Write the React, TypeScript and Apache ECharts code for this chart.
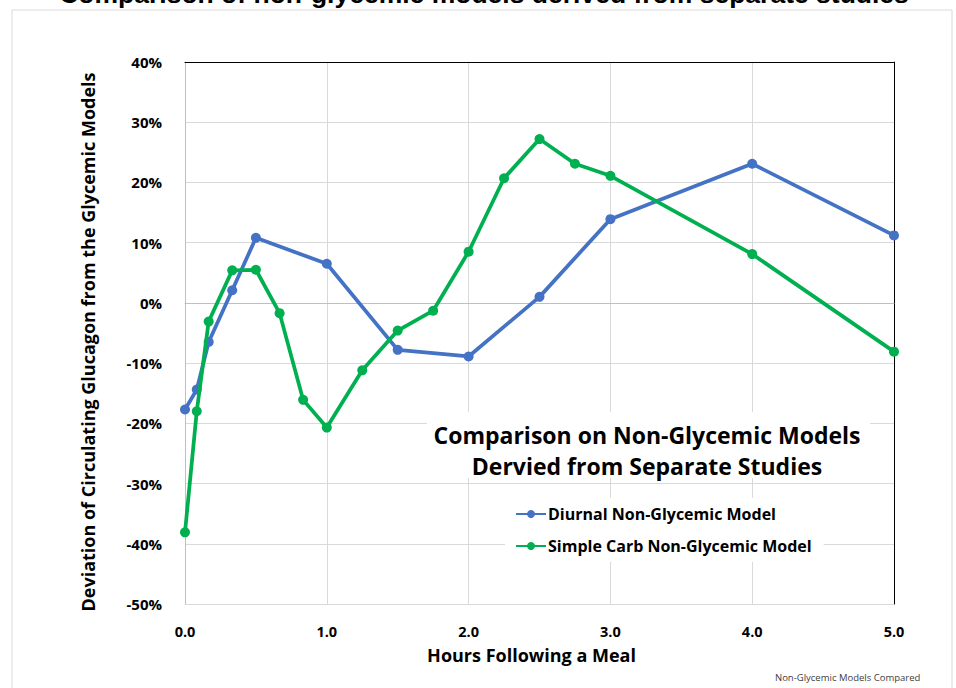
import React, { useEffect, useRef } from "react";
import * as echarts from "echarts";

const diurnalX = [0, 0.083, 0.167, 0.333, 0.5, 1.0, 1.5, 2.0, 2.5, 3.0, 4.0, 5.0];
const diurnalY = [-17.7, -14.4, -6.5, 2.1, 10.8, 6.5, -7.8, -8.9, 1.0, 13.9, 23.1, 11.2];

const carbX = [0, 0.083, 0.167, 0.333, 0.5, 0.667, 0.833, 1.0, 1.25, 1.5, 1.75, 2.0, 2.25, 2.5, 2.75, 3.0, 4.0, 5.0];
const carbY = [-38.1, -18.0, -3.1, 5.4, 5.5, -1.7, -16.1, -20.7, -11.2, -4.6, -1.3, 8.5, 20.7, 27.2, 23.1, 21.1, 8.1, -8.1];

const seriesNames = ["Diurnal Non-Glycemic Model", "Simple Carb Non-Glycemic Model"];
const seriesColors = ["#4472C4", "#00B050"];

const chartTitle = "Comparison of non-glycemic models derived from separate studies";
const innerTitle = "Comparison on Non-Glycemic Models\nDervied from Separate Studies";
const xAxisTitle = "Hours Following a Meal";
const yAxisTitle = "Deviation of Circulating Glucagon from the Glycemic Models";
const footer = "Non-Glycemic Models Compared";

const FONT = "'Open Sans', Lato, sans-serif";

export default function App() {
  const ref = useRef<HTMLDivElement>(null);
  useEffect(() => {
    if (!ref.current) return;
    const chart = echarts.init(ref.current, null, { renderer: "svg" });
    const pair = (xs: number[], ys: number[]) => xs.map((x, i) => [x, ys[i]]);
    chart.setOption({
      animation: false,
      backgroundColor: "#fff",
      textStyle: { fontFamily: FONT },
      grid: { left: 185, right: 62, top: 62, bottom: 84, containLabel: false },
      xAxis: [
        {
          type: "value",
          min: 0,
          max: 5,
          interval: 1,
          position: "bottom",
          name: xAxisTitle,
          nameLocation: "middle",
          nameGap: 42,
          nameTextStyle: { fontFamily: FONT, fontSize: 18, fontWeight: "bold", color: "#000", padding: [0, 16, 0, 0] },
          axisLine: { show: true, lineStyle: { color: "#bfbfbf", width: 1 } },
          axisTick: { show: false },
          axisLabel: {
            margin: 20,
            fontFamily: FONT,
            fontSize: 14.5,
            fontWeight: "bold",
            color: "#000",
            formatter: (v: number) => v.toFixed(1),
          },
          splitLine: { show: true, lineStyle: { color: "#d9d9d9", width: 1 } },
        },
        {
          type: "value",
          min: 0,
          max: 5,
          interval: 1,
          position: "top",
          axisLine: { show: true, onZero: false, lineStyle: { color: "#000", width: 1 } },
          axisTick: { show: false },
          axisLabel: { show: false },
          splitLine: { show: false },
        },
      ],
      yAxis: [
        {
          type: "value",
          min: -50,
          max: 40,
          interval: 10,
          position: "left",
          name: yAxisTitle,
          nameLocation: "middle",
          nameGap: 88,
          nameTextStyle: { fontFamily: FONT, fontSize: 18, fontWeight: "bold", color: "#000", padding: [0, 18, 0, 0] },
          axisLine: { show: true, onZero: false, lineStyle: { color: "#bfbfbf", width: 1 } },
          axisTick: { show: false },
          axisLabel: {
            margin: 23,
            fontFamily: FONT,
            fontSize: 15,
            fontWeight: "bold",
            color: "#000",
            formatter: (v: number) => `${v}%`,
          },
          splitLine: { show: true, lineStyle: { color: "#d9d9d9", width: 1 } },
        },
        {
          type: "value",
          min: -50,
          max: 40,
          interval: 10,
          position: "right",
          axisLine: { show: true, onZero: false, lineStyle: { color: "#000", width: 1 } },
          axisTick: { show: false },
          axisLabel: { show: false },
          splitLine: { show: false },
        },
      ],
      legend: {
        orient: "vertical",
        left: 505,
        top: 498,
        padding: [5, 12, 5, 10],
        itemGap: 10,
        itemWidth: 30,
        itemHeight: 10,
        backgroundColor: "#fff",
        textStyle: { fontFamily: FONT, fontSize: 16, fontWeight: "bold", color: "#000", lineHeight: 22, padding: [0, 0, 0, -3] },
        data: seriesNames,
      },
      series: [
        {
          name: seriesNames[0],
          type: "line",
          xAxisIndex: 0,
          yAxisIndex: 0,
          data: pair(diurnalX, diurnalY),
          color: seriesColors[0],
          lineStyle: { width: 3.75, color: seriesColors[0] },
          itemStyle: { color: seriesColors[0] },
          symbol: "circle",
          symbolSize: 10,
          z: 3,
        },
        {
          name: seriesNames[1],
          type: "line",
          xAxisIndex: 0,
          yAxisIndex: 0,
          data: pair(carbX, carbY),
          color: seriesColors[1],
          lineStyle: { width: 3.75, color: seriesColors[1] },
          itemStyle: { color: seriesColors[1] },
          symbol: "circle",
          symbolSize: 10,
          z: 4,
        },
      ],
      graphic: [
        {
          type: "rect",
          z: -10,
          silent: true,
          shape: { x: 12, y: 10, width: 940, height: 700 },
          style: { fill: "none", stroke: "#d9d9d9", lineWidth: 1 },
        },
        {
          type: "text",
          z: 10,
          x: 484,
          y: 7,
          style: {
            text: chartTitle,
            fontFamily: "'Liberation Sans', Arial, sans-serif",
            fontSize: 26.5,
            fontWeight: "bold",
            fill: "#000",
            align: "center",
            verticalAlign: "bottom",
          },
        },
        {
          type: "rect",
          z: 5,
          silent: true,
          shape: { x: 427, y: 412, width: 443, height: 66 },
          style: { fill: "#fff" },
        },
        {
          type: "text",
          z: 10,
          x: 647,
          y: 450.5,
          style: {
            text: innerTitle,
            fontFamily: FONT,
            fontSize: 23,
            fontWeight: "bold",
            lineHeight: 31,
            fill: "#000",
            align: "center",
            verticalAlign: "middle",
          },
        },
        {
          type: "text",
          z: 10,
          x: 775,
          y: 677,
          style: {
            text: footer,
            fontFamily: FONT,
            fontSize: 9.5,
            fill: "#404040",
            align: "left",
            verticalAlign: "middle",
          },
        },
      ],
    });
    return () => chart.dispose();
  }, []);
  return (
    <div
      ref={ref}
      style={{ position: "fixed", left: 0, top: 0, width: 956, height: 688 }}
    />
  );
}
